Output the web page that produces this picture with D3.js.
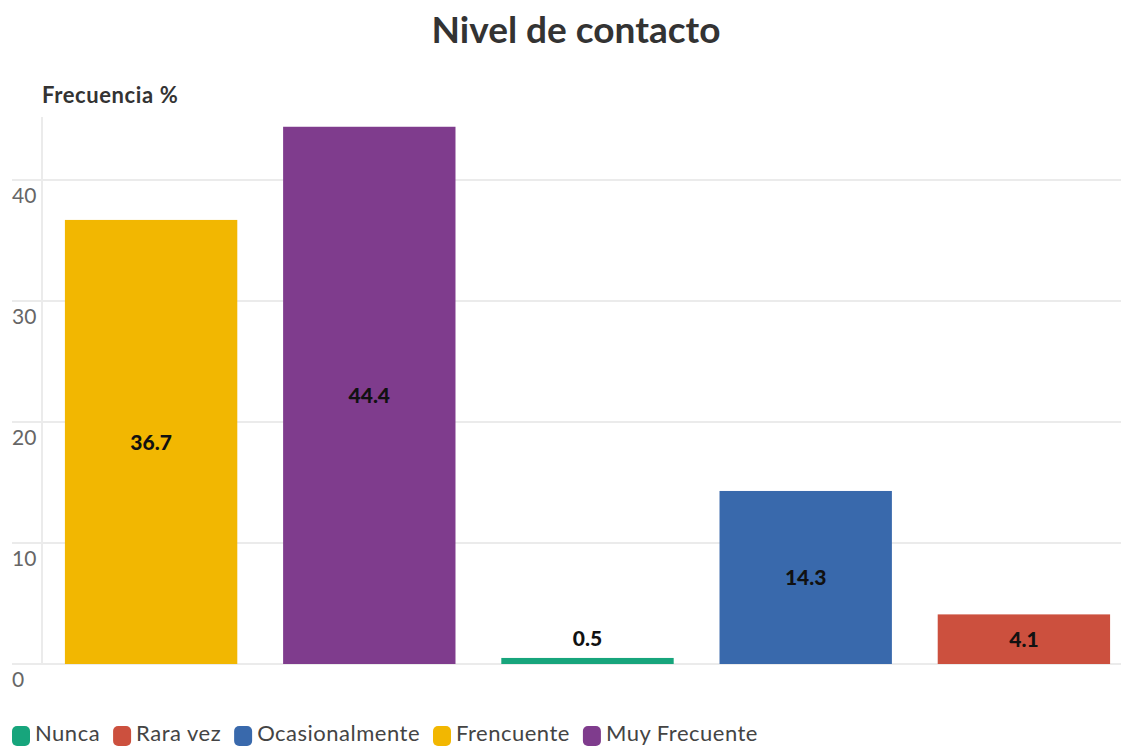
<!DOCTYPE html>
<html><head><meta charset="utf-8">
<script src="https://cdn.jsdelivr.net/npm/d3@7"></script>
<style>body{margin:0;background:#fff}svg{display:block;font-family:Lato,"Open Sans",sans-serif}</style>
</head><body><svg id="c" width="1121" height="747"></svg>
<script>
const categories = ["Frencuente","Muy Frecuente","Nunca","Ocasionalmente","Rara vez"];
const values = [36.7, 44.4, 0.5, 14.3, 4.1];
const legendOrder = ["Nunca","Rara vez","Ocasionalmente","Frencuente","Muy Frecuente"];
const colors = {"Nunca":"#17a57c","Rara vez":"#cc503e","Ocasionalmente":"#3969ac","Frencuente":"#f2b701","Muy Frecuente":"#7f3c8d"};
const yTicks = [0,10,20,30,40];

const svg = d3.select("#c");
const x = d3.scaleBand().domain(categories).range([42,1133]).paddingInner(0.21).paddingOuter(0.105);
const y = d3.scaleLinear().domain([0,40]).range([664,180]);

// grid
svg.append("line").attr("x1",42).attr("x2",42).attr("y1",117).attr("y2",664).attr("stroke","#ebebeb").attr("stroke-width",2);
const g = svg.append("g");
yTicks.forEach(t=>{
  g.append("line").attr("x1",12).attr("x2",1121).attr("y1",y(t)).attr("y2",y(t)).attr("stroke","#ebebeb").attr("stroke-width",2);
  g.append("text").attr("x",12).attr("y",y(t)+23).attr("font-size",21).attr("fill","#666").text(t);
});

// bars
categories.forEach((c,i)=>{
  const v = values[i];
  svg.append("rect").attr("x",x(c)).attr("width",x.bandwidth()).attr("y",y(v)).attr("height",y(0)-y(v)).attr("fill",colors[c]);
  const inside = (y(0)-y(v)) > 30;
  const ly = inside ? (y(v)+y(0))/2 + 8 : y(v) - 12;
  svg.append("text").attr("x",x(c)+x.bandwidth()/2).attr("y",ly).attr("text-anchor","middle")
    .attr("font-size",21).attr("font-weight",900).attr("fill","#111").text(v);
});

// title
svg.append("text").attr("x",576).attr("y",43).attr("text-anchor","middle").attr("font-size",37).attr("font-weight","bold").attr("fill","#333").text("Nivel de contacto");
svg.append("text").attr("x",42).attr("y",103).attr("font-size",22).attr("font-weight","bold").attr("letter-spacing",0.6).attr("fill","#333").text("Frecuencia %");

// legend
let lx = 12;
legendOrder.forEach(k=>{
  svg.append("rect").attr("x",lx).attr("y",726).attr("width",18).attr("height",20).attr("rx",5).attr("fill",colors[k]);
  const t = svg.append("text").attr("x",lx+23).attr("y",741).attr("font-size",22).attr("letter-spacing",0.5).attr("fill","#444").text(k);
  lx += 23 + t.node().getComputedTextLength() + 13;
});
</script></body></html>
